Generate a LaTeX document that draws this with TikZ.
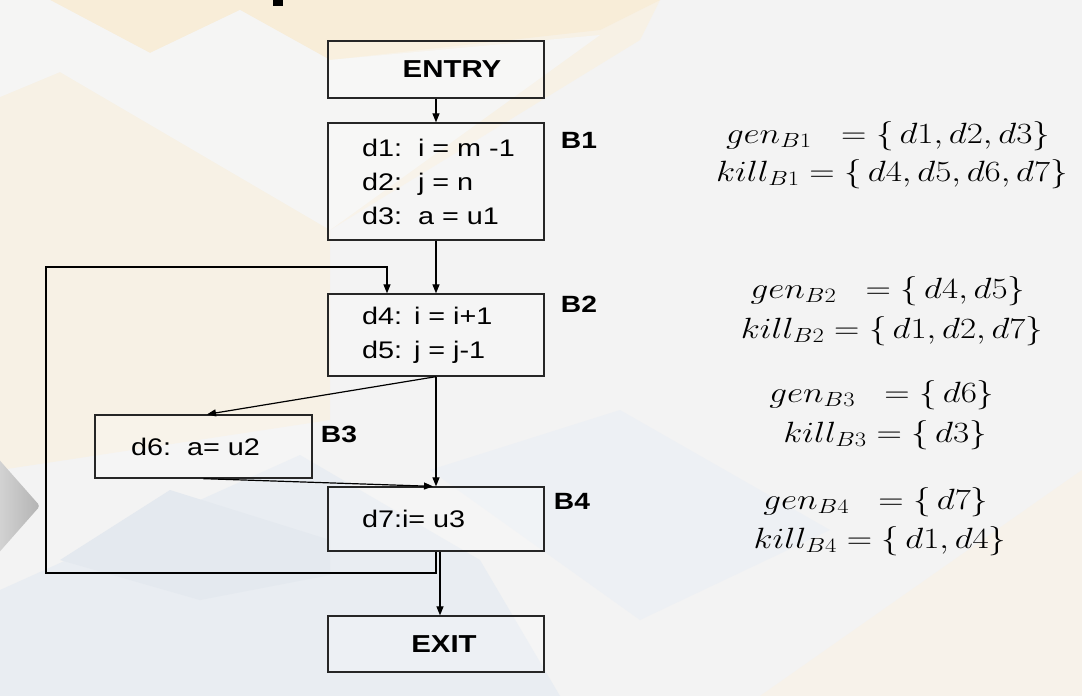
\RequirePackage{fix-cm}
\documentclass[tikz,border=0pt]{standalone}
\usepackage{graphicx}
\usepackage{fontspec}
\setmainfont{Liberation Sans}[FakeStretch=1.2]
\usetikzlibrary{arrows.meta,calc}
\definecolor{bgbase}{HTML}{F3F3F3}
\definecolor{cream}{HTML}{F7F1E5}
\definecolor{creamdk}{HTML}{F8EDD8}
\definecolor{whiteband}{HTML}{F5F5F4}
\definecolor{creamlt}{HTML}{F7F2EA}
\definecolor{bluegray}{HTML}{E9EDF2}
\definecolor{bluegraydk}{HTML}{E4E9EF}
\definecolor{bluegraylt}{HTML}{EDF0F4}
\definecolor{tri1}{HTML}{D6D6D6}
\definecolor{tri2}{HTML}{B3B3B3}
\newcommand{\mset}[1]{\scalebox{1.2}[1]{$#1$}}
\begin{document}
\begin{tikzpicture}[x=1pt,y=-1pt,
  box/.style={draw=black!85, line width=1.3pt, fill=white, fill opacity=0.2, text opacity=1, inner sep=0pt},
  codebox/.style={box, font=\fontsize{24}{34}\selectfont, align=left, inner xsep=34pt, inner ysep=0pt, text width=148pt, minimum width=216pt, minimum height=#1},
  termbox/.style={box, font=\bfseries\fontsize{24.5}{30}\selectfont, minimum width=216pt, minimum height=#1},
  lbl/.style={font=\bfseries\fontsize{23.5}{28}\selectfont},
  mth/.style={font=\fontsize{29.3}{35}\selectfont},
  arr/.style={line width=1.2pt, -{Triangle[length=9pt,width=7pt]}}]
% background
\useasboundingbox (0,0) rectangle (1082,696);
\fill[bgbase] (0,0) rectangle (1082,696);
\fill[cream] (0,0) -- (660,0) -- (640,40) -- (330,230) -- (330,420) -- (0,470) -- cycle;
\fill[creamdk] (50,0) -- (660,0) -- (600,30) -- (330,60) -- (240,10) -- (150,53) -- cycle;
\fill[whiteband] (0,0) -- (50,0) -- (150,53) -- (240,10) -- (330,60) -- (600,35) -- (330,230) -- (60,72) -- (0,97) -- cycle;
\fill[bluegray] (0,590) -- (300,455) -- (480,560) -- (560,696) -- (0,696) -- cycle;
\fill[bluegraydk] (60,560) -- (170,490) -- (330,540) -- (330,575) -- (200,600) -- cycle;
\fill[bluegraylt] (430,470) -- (620,410) -- (830,530) -- (640,620) -- cycle;
\fill[creamlt] (760,696) -- (1082,470) -- (1082,696) -- cycle;
\shade[left color=tri1, right color=tri2, rounded corners=3pt] (-5,455) -- (40,506) -- (-5,557) -- cycle;
\fill[black] (273,0) rectangle (283,6);
% blocks
\node[termbox=57pt] (entry) at (436,69.5) {\hspace*{32pt}ENTRY};
\node[codebox=117pt] (b1) at (436,181.5) {\mbox{d1:\ \ i = m -1}\\ \mbox{d2:\ \ j = n}\\ \mbox{d3:\ \ a = u1}};
\node[codebox=82pt] (b2) at (436,335) {\mbox{d4: i = i+1}\\ \mbox{d5: j = j-1}};
\node[box, font=\fontsize{24}{34}\selectfont, align=left, inner xsep=36pt, inner ysep=0pt, text width=145pt, minimum width=217pt, minimum height=63pt] (b3) at (203.5,446.5) {\mbox{d6:\ \ a= u2}};
\node[codebox=64pt] (b4) at (436,519) {\mbox{d7:i= u3}};
\node[termbox=56pt] (exit) at (436,644) {\hspace*{16pt}EXIT};
% block labels
\node[lbl] (l1) at (579,140) {B1};
\node[lbl] (l2) at (579,304) {B2};
\node[lbl] (l3) at (339,434) {B3};
\node[lbl] (l4) at (572,501) {B4};
% connectors
\coordinate (lb) at (46,573);
\coordinate (lt) at (46,267);
\coordinate (b2in) at ($(b2.north)+(-49,0)$);
\coordinate (b3in) at ($(b3.north)+(3.5,0)$);
\coordinate (b4in) at ($(b4.north)+(-3,0)$);
\coordinate (xo) at ($(b4.south)+(4,0)$);
\draw[arr] (entry.south) -- (b1.north);
\draw[arr] (b1.south) -- (b2.north);
\draw[arr] (b2.south) -- (b3in);
\draw[arr] (b2.south) -- (b4.north);
\draw[arr] (b3.south) -- (b4in);
\draw[arr] (b4.south) -- (b4.south |- lb) -- (lb) -- (lt) -- (lt -| b2in) -- (b2in);
\draw[arr] (xo) -- (xo |- exit.north);
% gen / kill sets
\node[mth] (g1) at (888,136) {\mset{gen_{B1}\;\;= \{\,d1, d2, d3\}}};
\node[mth] (k1) at (892,174) {\mset{kill_{B1} = \{\,d4, d5, d6, d7\}}};
\node[mth] (g2) at (888,291) {\mset{gen_{B2}\;\;= \{\,d4, d5\}}};
\node[mth] (k2) at (892,331) {\mset{kill_{B2} = \{\,d1, d2, d7\}}};
\node[mth] (g3) at (882,395) {\mset{gen_{B3}\;\;= \{\,d6\}}};
\node[mth] (k3) at (885,435) {\mset{kill_{B3} = \{\,d3\}}};
\node[mth] (g4) at (876,502) {\mset{gen_{B4}\;\;= \{\,d7\}}};
\node[mth] (k4) at (880,541) {\mset{kill_{B4} = \{\,d1, d4\}}};
\end{tikzpicture}
\end{document}
